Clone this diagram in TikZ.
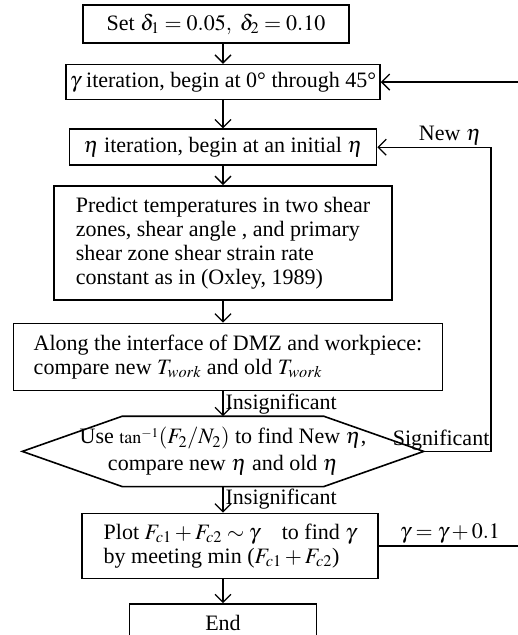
\documentclass[tikz,border=0pt]{standalone}
\usepackage{mathptmx}
\usepackage[no-math]{fontspec}
\setmainfont{Liberation Serif}
\usetikzlibrary{arrows.meta, positioning}
\tikzset{
  box/.style={draw, line width=1.6pt, inner sep=2pt},
  arr/.style={-{Straight Barb[length=8pt, width=16pt]}, line width=1.3pt},
  lbl/.style={inner sep=2pt},
}
\begin{document}
\begin{tikzpicture}[x=1pt, y=1pt, font=\fontsize{22}{24}\selectfont]
    \useasboundingbox (0,0) rectangle (518,-635);
    \node[box, minimum width=266pt, minimum height=38pt] (set) at (216,-24) {Set $\delta_1=0.05,\ \delta_2=0.10$};
    \node[box, minimum width=314pt, minimum height=35pt, below=20pt of set, xshift=7pt] (gam) {$\gamma$ iteration, begin at 0° through 45°};
    \node[box, minimum width=307pt, minimum height=36pt, below=28pt of gam] (eta) {$\eta$ iteration, begin at an initial $\eta$};
    \node[box, minimum width=338pt, minimum height=114pt, below=19pt of eta, align=left] (pred) {Predict temperatures in two shear\\zones, shear angle , and primary\\shear zone shear strain rate\\constant as in (Oxley, 1989)};
    \node[box, minimum width=429pt, minimum height=67pt, below=22pt of pred, xshift=5pt, align=left] (along) {Along the interface of DMZ and workpiece:\\compare new $T_{work}$ and old $T_{work}$};
    \node[minimum width=401pt, minimum height=70pt, inner sep=0pt, below=25pt of along, xshift=-5pt, align=center] (cmp) {Use {\fontsize{18}{18}\selectfont$\tan^{-1}$}$(F_2/N_2)$ to find New $\eta$,\\[3pt]compare new $\eta$ and old $\eta$};
    \draw[line width=1.6pt] (cmp.west) -- ([xshift=100pt]cmp.north west) -- ([xshift=-100pt]cmp.north east) -- (cmp.east)
      -- ([xshift=-100pt]cmp.south east) -- ([xshift=100pt]cmp.south west) -- cycle;
    \node[box, minimum width=296pt, minimum height=65pt, below=26pt of cmp, xshift=7pt, align=left] (plot) {Plot $F_{c1}+F_{c2}\sim\gamma$\quad to find $\gamma$\\by meeting min ($F_{c1}+F_{c2}$)};
    \node[box, minimum width=187pt, minimum height=38pt, below=24pt of plot, xshift=-7pt] (end) {End};
    \coordinate (rl) at (491,0);
    \coordinate (rr) at (521,0);
    \draw[arr] (set.south -| gam.north) -- (gam.north);
    \draw[arr] (gam) -- (eta);
    \draw[arr] (eta) -- (pred);
    \draw[arr] (pred.south) -- (pred.south |- along.north);
    \draw[arr] (along.south -| cmp.north) -- node[lbl, right] {Insignificant} (cmp.north);
    \draw[arr] (cmp.south) -- node[lbl, right] {Insignificant} (cmp.south |- plot.north);
    \draw[arr] (plot.south -| end.north) -- (end.north);
    \draw[arr] (cmp.east) -- (cmp.east -| rl) node[lbl, above left, inner sep=1pt] {Significant} |- node[lbl, pos=0.68, above] {New $\eta$} (eta.east);
    \draw[arr] (plot.east) -- node[lbl, above] {$\gamma=\gamma+0.1$} (plot.east -| rr) |- (gam.east);
\end{tikzpicture}
\end{document}
